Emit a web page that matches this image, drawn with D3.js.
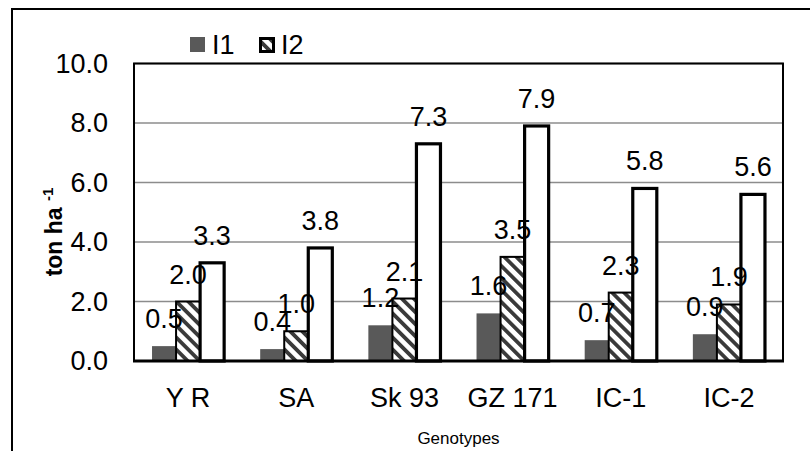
<!DOCTYPE html>
<html>
<head>
<meta charset="utf-8">
<script src="https://cdn.jsdelivr.net/npm/d3@7"></script>
<style>
  html, body { margin: 0; padding: 0; background: #fff; }
  svg { display: block; font-family: "Liberation Sans", Arial, sans-serif; }
</style>
</head>
<body>
<svg id="chart" width="810" height="451"></svg>
<script>
// Genotypes on the x axis
const categories = ["Y R", "SA", "Sk 93", "GZ 171", "IC-1", "IC-2"];
// Yield (ton ha-1) for each treatment series
const seriesI1 = [0.5, 0.4, 1.2, 1.6, 0.7, 0.9];
const seriesHatched = [2.0, 1.0, 2.1, 3.5, 2.3, 1.9];
const seriesI2 = [3.3, 3.8, 7.3, 7.9, 5.8, 5.6];
const yTicks = [0, 2, 4, 6, 8, 10];
const legendNames = ["I1", "I2"];

const series = [
  { key: "I1", values: seriesI1 },
  { key: "H", values: seriesHatched },
  { key: "I2", values: seriesI2 }
];

const svg = d3.select("#chart");
const margin = { left: 134, right: 27, top: 63.5, bottom: 90 };
const W = 810, H = 451;
const plotW = W - margin.left - margin.right;
const plotH = H - margin.top - margin.bottom;
const FS = 27;

// hatch pattern: dark diagonal stripes running top-left to bottom-right
const defs = svg.append("defs");
const pat = defs.append("pattern")
  .attr("id", "hatch")
  .attr("patternUnits", "userSpaceOnUse")
  .attr("width", 8.5).attr("height", 8.5)
  .attr("patternTransform", "rotate(-45)");
pat.append("rect").attr("width", 8.5).attr("height", 8.5).attr("fill", "#fff");
pat.append("rect").attr("x", 0).attr("width", 3.8).attr("height", 8.5).attr("fill", "#3a3a3a");

// outer chart frame
svg.append("rect")
  .attr("x", 12).attr("y", 9).attr("width", 830).attr("height", 470)
  .attr("fill", "none").attr("stroke", "#000").attr("stroke-width", 2);

const g = svg.append("g").attr("transform", `translate(${margin.left},${margin.top})`);

const x0 = d3.scaleBand().domain(categories).range([0, plotW]).paddingInner(0.3333).paddingOuter(0.1667);
const x1 = d3.scaleBand().domain(series.map(s => s.key)).range([0, x0.bandwidth()]);
const y = d3.scaleLinear().domain([0, 10]).range([plotH, 0]);

// gridlines
g.append("g").selectAll("line").data(yTicks.filter(t => t > 0)).join("line")
  .attr("x1", 0).attr("x2", plotW)
  .attr("y1", d => y(d)).attr("y2", d => y(d))
  .attr("stroke", "#8c8c8c").attr("stroke-width", 1.5);

// plot area border
g.append("rect").attr("x", 0).attr("y", 0).attr("width", plotW).attr("height", plotH)
  .attr("fill", "none").attr("stroke", "#000").attr("stroke-width", 2);

// y axis labels
const yAxis = d3.axisLeft(y).tickValues(yTicks).tickFormat(d3.format(".1f")).tickSize(0).tickPadding(26);
const ya = g.append("g").call(yAxis);
ya.select(".domain").remove();
ya.selectAll("text").attr("font-size", FS).attr("fill", "#000")
  .attr("font-family", "Liberation Sans, Arial, sans-serif");

// bars
const style = {
  I1: { fill: "#595959", stroke: "none", sw: 0 },
  H: { fill: "url(#hatch)", stroke: "#000", sw: 2 },
  I2: { fill: "#fff", stroke: "#000", sw: 3.2 }
};
const groups = g.append("g").selectAll("g").data(categories).join("g")
  .attr("transform", d => `translate(${x0(d)},0)`);
series.forEach(s => {
  groups.append("rect")
    .attr("x", x1(s.key))
    .attr("y", (d, i) => y(s.values[i]))
    .attr("width", x1.bandwidth())
    .attr("height", (d, i) => y(0) - y(s.values[i]))
    .attr("fill", style[s.key].fill)
    .attr("stroke", style[s.key].stroke)
    .attr("stroke-width", style[s.key].sw);
});

// x axis baseline
g.append("line").attr("x1", -1).attr("x2", plotW + 1).attr("y1", plotH).attr("y2", plotH)
  .attr("stroke", "#000").attr("stroke-width", 3.2);

// value labels
series.forEach(s => {
  groups.append("text")
    .attr("x", x1(s.key) + x1.bandwidth() / 2)
    .attr("y", (d, i) => y(s.values[i]) - 18)
    .attr("text-anchor", "middle")
    .attr("font-size", FS)
    .text((d, i) => s.values[i].toFixed(1));
});

// category labels
const xAxis = d3.axisBottom(x0).tickSize(0).tickPadding(27);
const xa = g.append("g").attr("transform", `translate(0,${plotH})`).call(xAxis);
xa.select(".domain").remove();
xa.selectAll("text").attr("font-size", FS).attr("fill", "#000")
  .attr("font-family", "Liberation Sans, Arial, sans-serif");

// axis titles
svg.append("text").attr("x", margin.left + plotW / 2).attr("y", 444).attr("text-anchor", "middle")
  .attr("font-size", 17).text("Genotypes");
const yt = svg.append("text")
  .attr("transform", `translate(62,232) rotate(-90)`)
  .attr("text-anchor", "middle").attr("font-size", 23).attr("font-weight", "bold");
yt.append("tspan").text("ton ha ");
yt.append("tspan").attr("font-size", 15).attr("dy", -9).text("-1");

// legend
const leg = svg.append("g");
const legItems = [
  { name: legendNames[0], x: 190 },
  { name: legendNames[1], x: 259 }
];
leg.append("rect").attr("x", legItems[0].x).attr("y", 37).attr("width", 15).attr("height", 15).attr("fill", "#595959");
leg.append("rect").attr("x", legItems[1].x + 1.5).attr("y", 38.5).attr("width", 13).attr("height", 13)
  .attr("fill", "url(#hatch)").attr("stroke", "#000").attr("stroke-width", 3);
leg.selectAll("text").data(legItems).join("text")
  .attr("x", d => d.x + 22).attr("y", 54).attr("font-size", FS).text(d => d.name);
</script>
</body>
</html>
